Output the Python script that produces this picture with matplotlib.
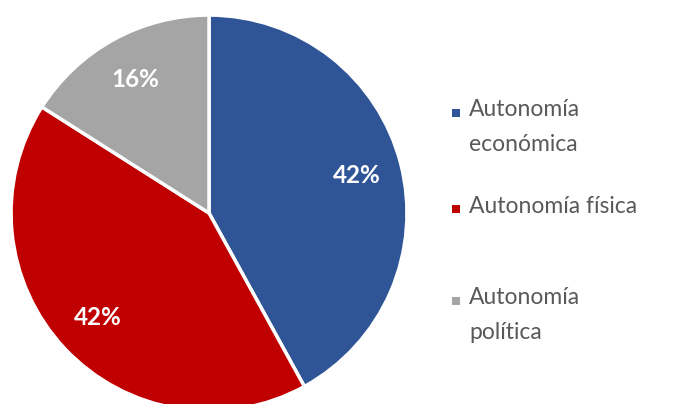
import matplotlib.pyplot as plt

# Datos
categorias = ["Autonomía\neconómica", "Autonomía física", "Autonomía\npolítica"]
valores = [42, 42, 16]
colores = ["#2F5597", "#C00000", "#A5A5A5"]

plt.rcParams["font.family"] = ["Lato", "DejaVu Sans"]

fig = plt.figure(figsize=(6.75, 4.04), dpi=100)
ax = fig.add_axes([0.0163, -0.0173, 0.5867, 0.980])

wedges, textos, autotextos = ax.pie(
    valores, colors=colores, startangle=90, counterclock=False,
    autopct="%1.0f%%", pctdistance=0.77,
    wedgeprops=dict(edgecolor="white", linewidth=2.5),
    textprops=dict(color="white", fontsize=17.5, fontweight="bold"))
ax.set_xlim(-1, 1)
ax.set_ylim(-1, 1)
ax.set_aspect("equal")
for w in wedges:
    w.set_clip_on(False)

# Leyenda colocada a mano (como en la original)
legend_y = [0.72, 0.482, 0.255]  # posiciones verticales (primera línea de cada texto)
for w, etiqueta, y in zip(wedges, categorias, legend_y):
    fig.patches.append(plt.Rectangle((0.669, y - 0.01), 0.0125, 0.021,
                                     transform=fig.transFigure,
                                     facecolor=w.get_facecolor(), edgecolor="none"))
    fig.text(0.695, y + 0.034, etiqueta, color="#595959", fontsize=16.5,
             va="top", ha="left", linespacing=1.8)

fig.savefig("out.png", dpi=100)
